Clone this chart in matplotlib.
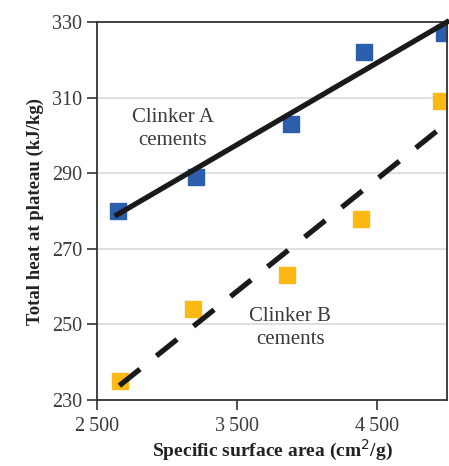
import numpy as np
import matplotlib.pyplot as plt

plt.rcParams['font.family'] = ['Liberation Serif', 'DejaVu Serif']

# clinker A (blue) and clinker B (yellow) measurements
area_a = [2650, 3207, 3886, 4407, 4979]
heat_a = [280, 289, 303, 322, 327]
area_b = [2664, 3186, 3857, 4386, 4957]
heat_b = [235, 254, 263, 278, 309]

# fitted lines (end points)
fit_a_x = [2643, 5000]
fit_a_y = [279, 330]
fit_b_x = [2660, 5000]
fit_b_y = [233.8, 303.3]

xticks = [2500, 3500, 4500]
xtick_labels = ['2\u2009500', '3\u2009500', '4\u2009500']
yticks = [230, 250, 270, 290, 310, 330]

fig = plt.figure(figsize=(4.49, 4.66), dpi=100)
ax = fig.add_axes([0.216, 0.1416, 0.7795, 0.8112])

for y in [250, 270, 290, 310]:
    ax.axhline(y, color='#d9d9d9', lw=1.2, zorder=0)

ax.plot(area_a, heat_a, 's', color='#2b5fad', ms=11, zorder=2)
ax.plot(area_b, heat_b, 's', color='#fdb913', ms=11, zorder=2)
ax.plot(fit_a_x, fit_a_y, '-', color='#1a1a1a', lw=3.8, zorder=3, clip_on=False)
ax.plot(fit_b_x, fit_b_y, color='#1a1a1a', lw=3.8, zorder=3,
        dashes=(5, 4), clip_on=False)

ax.text(3040, 301.7, 'Clinker A\ncements', ha='center', va='center',
        fontsize=15, color='#3a3a3a', linespacing=1.25)
ax.text(3880, 249, 'Clinker B\ncements', ha='center', va='center',
        fontsize=15, color='#3a3a3a', linespacing=1.25)

ax.set_xlim(2500, 5000)
ax.set_ylim(230, 330)
ax.set_xticks(xticks)
ax.set_xticklabels(xtick_labels)
ax.set_yticks(yticks)
ax.tick_params(direction='out', length=7, width=1.2, labelsize=14.5,
               colors='#333333', labelcolor='#3a3a3a')
ax.tick_params(axis='x', pad=5)
for s in ax.spines.values():
    s.set_color('#333333')
    s.set_linewidth(1.3)

ax.set_xlabel('Specific surface area (cm$^{2}$/g)', fontsize=14,
              fontweight='bold', color='#222222', labelpad=2)
ax.set_ylabel('Total heat at plateau (kJ/kg)', fontsize=13.5,
              fontweight='bold', color='#222222', labelpad=6)

fig.savefig('out.png', dpi=100)
